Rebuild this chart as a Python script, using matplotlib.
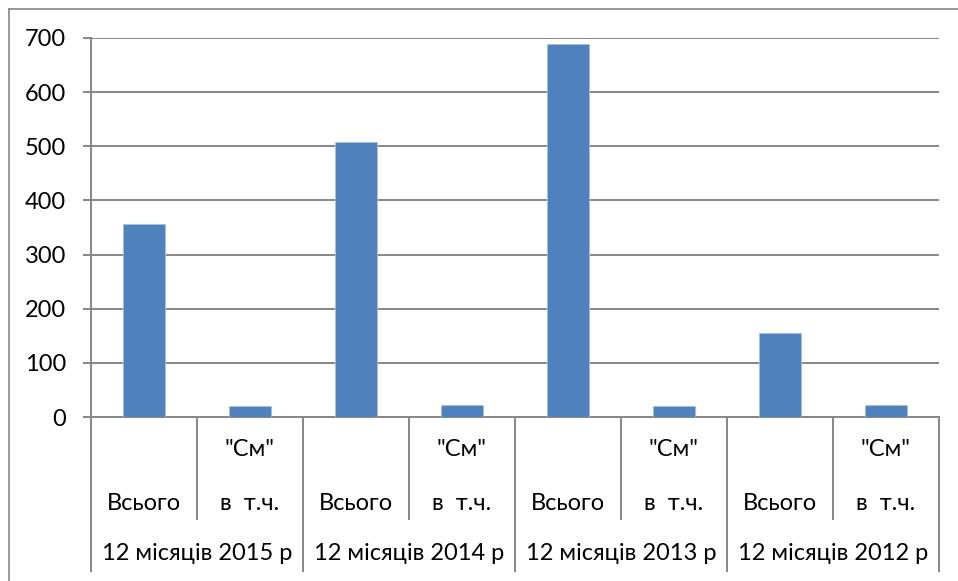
import matplotlib
matplotlib.use("Agg")
import matplotlib.pyplot as plt
from matplotlib.lines import Line2D

groups = ["12 місяців 2015 р", "12 місяців 2014 р", "12 місяців 2013 р", "12 місяців 2012 р"]
sub_top = ["", "\"См\""]
sub_bottom = ["Всього", "в  т.ч."]
values = [357, 20, 507, 23, 688, 20, 155, 23]
yticks = [0, 100, 200, 300, 400, 500, 600, 700]

W, H = 958, 581
fig = plt.figure(figsize=(W / 100, H / 100), dpi=100)
plt.rcParams['font.family'] = ['Lato', 'DejaVu Sans']
FS = 17

L, R, T, B = 91, 939, 38, 417
ax = fig.add_axes([L / W, 1 - B / H, (R - L) / W, (B - T) / H])

bar_color = "#4F81BD"
grid_color = "#868686"
x = list(range(len(values)))
ax.bar(x, values, width=0.4, color=bar_color, edgecolor="#A7C0DE", linewidth=0.6, zorder=3)

ax.set_xlim(-0.5, len(values) - 0.5)
ax.set_ylim(0, 700)
ax.set_yticks(yticks)
ax.set_yticklabels([str(v) for v in yticks], fontsize=FS)
ax.yaxis.grid(True, color=grid_color, linewidth=1.4, zorder=0)
ax.set_axisbelow(True)
for s in ["top", "right"]:
    ax.spines[s].set_visible(False)
ax.spines["left"].set_color(grid_color)
ax.spines["left"].set_linewidth(1.4)
ax.spines["bottom"].set_color(grid_color)
ax.spines["bottom"].set_linewidth(1.4)
ax.tick_params(axis="y", length=6, width=1.4, color=grid_color, pad=12)
ax.set_xticks([])

trans = ax.get_xaxis_transform()
h = B - T

def fy(p):
    return (B - p) / h

# category labels
for i in range(len(values)):
    ax.text(i, fy(450), sub_top[i % 2], transform=trans, ha="center", va="center", fontsize=FS, clip_on=False)
    ax.text(i, fy(503), sub_bottom[i % 2], transform=trans, ha="center", va="center", fontsize=FS, clip_on=False)
for g, name in enumerate(groups):
    ax.text(2 * g + 0.5, fy(553), name, transform=trans, ha="center", va="center", fontsize=FS, clip_on=False)

# separator lines
for k in range(len(values) + 1):
    xb = k - 0.5
    bottom = fy(571) if k % 2 == 0 else fy(519)
    ax.add_line(Line2D([xb, xb], [0, bottom], transform=trans, color=grid_color,
                       linewidth=1.4, clip_on=False))

# outer chart frame (only left and top visible inside image)
fig.add_artist(Line2D([9 / W, 9 / W], [0, 1 - 9 / H], transform=fig.transFigure, color="#888888", linewidth=1.2))
fig.add_artist(Line2D([9 / W, 1], [1 - 9 / H, 1 - 9 / H], transform=fig.transFigure, color="#888888", linewidth=1.2))

fig.savefig("out.png", dpi=100)
